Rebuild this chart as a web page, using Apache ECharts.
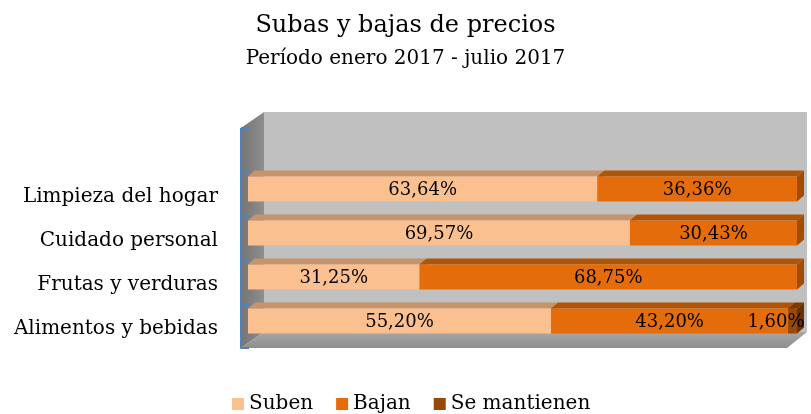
<!DOCTYPE html>
<html>
<head>
<meta charset="utf-8">
<script src="https://cdn.jsdelivr.net/npm/echarts@6/dist/echarts.min.js"></script>
<style>
  html, body { margin: 0; padding: 0; background: #fff; }
  #chart { width: 811px; height: 414px; }
</style>
</head>
<body>
<div id="chart"></div>
<script>
// data (bottom to top, like the axis)
const categories = ['Alimentos y bebidas', 'Frutas y verduras', 'Cuidado personal', 'Limpieza del hogar'];
const suben = [55.20, 31.25, 69.57, 63.64];
const bajan = [43.20, 68.75, 30.43, 36.36];
const seMantienen = [1.60, 0, 0, 0];

const seriesNames = ['Suben', 'Bajan', 'Se mantienen'];
const seriesValues = [suben, bajan, seMantienen];

const FONT = 'DejaVu Serif';
// front face, top face, side face
const colors = [
  ['#FAC090', '#C7936B', '#B8845E'],
  ['#E46C0A', '#B05508', '#A24D06'],
  ['#984807', '#7A3905', '#6A3104']
];

// grid = front plane of the axis
const G = { left: 241, top: 172, right: 21, bottom: 66 };
const FX = 7, FY = -5;    // bar front offset from axis plane
const DX = 7, DY = 6;     // bar depth
const WX = 23, WY = 16;   // back wall offset
const EXTRA = 44;         // empty band above the bars

const myChart = echarts.init(document.getElementById('chart'));

// running start of each stacked piece
const starts = seriesValues.map((vals, k) =>
  vals.map((v, i) => seriesValues.slice(0, k).reduce((s, arr) => s + arr[i], 0))
);

function fmt(v) {
  return v.toFixed(2).replace('.', ',') + '%';
}

function makeRender(k) {
  return function (params, api) {
    const cat = api.value(0);
    const start = api.value(1);
    const val = api.value(2);
    if (!(val > 0)) return null;
    const a = api.coord([start, cat]);
    const b = api.coord([start + val, cat]);
    const band = api.size([0, 1])[1];
    const h = band * 0.57;
    const x0 = a[0] + FX, x1 = b[0] + FX;
    const yc = a[1] + FY, yt = yc - h / 2;
    const c = colors[k];
    // keep the label inside the plot like the original does
    const half = 30;
    const tx = Math.min((x0 + x1) / 2, x1 + DX + 2 - half);
    return {
      type: 'group',
      children: [
        { type: 'polygon', shape: { points: [[x0, yt], [x1, yt], [x1 + DX, yt - DY], [x0 + DX, yt - DY]] }, style: { fill: c[1] } },
        { type: 'polygon', shape: { points: [[x1, yt], [x1 + DX, yt - DY], [x1 + DX, yt - DY + h], [x1, yt + h]] }, style: { fill: c[2] } },
        { type: 'rect', shape: { x: x0, y: yt, width: x1 - x0, height: h }, style: { fill: c[0] } },
        {
          type: 'text',
          style: {
            x: tx, y: yc + 1, text: fmt(val),
            align: 'center', verticalAlign: 'middle',
            font: '18px "' + FONT + '"', fill: '#000'
          },
          z2: 10
        }
      ]
    };
  };
}

const W = 811, H = 414;
const gx0 = G.left, gx1 = W - G.right, gy0 = G.top - EXTRA, gy1 = H - G.bottom;

const option = {
  animation: false,
  title: {
    text: 'Subas y bajas de precios',
    subtext: 'Período enero 2017 - julio 2017',
    left: 'center',
    top: 9,
    itemGap: 11,
    textStyle: { fontFamily: FONT, fontSize: 24, fontWeight: 'normal', color: '#000' },
    subtextStyle: { fontFamily: FONT, fontSize: 20, color: '#000' }
  },
  legend: {
    data: seriesNames,
    bottom: -5,
    left: 227,
    icon: 'rect',
    itemWidth: 12,
    itemHeight: 12,
    itemGap: 23,
    textStyle: { fontFamily: FONT, fontSize: 20, color: '#000' }
  },
  grid: G,
  xAxis: { type: 'value', min: 0, max: 100, show: false },
  yAxis: {
    type: 'category',
    data: categories,
    axisLine: { show: true, lineStyle: { color: '#4F81BD', width: 2 } },
    axisTick: { show: true, inside: true, length: 8, lineStyle: { color: '#4F81BD', width: 2 } },
    axisLabel: {
      margin: 23,
      formatter: v => '{c|' + v + '}',
      rich: { c: { fontFamily: FONT, fontSize: 20, color: '#000', padding: [6, 0, 0, 0] } }
    },
    splitLine: { show: false },
    z: 5
  },
  graphic: [
    // back wall
    { type: 'polygon', z: -10, shape: { points: [[gx0 + WX, gy0 - WY], [gx1 + WX - 6, gy0 - WY], [gx1 + WX - 6, gy1 - WY], [gx0 + WX, gy1 - WY]] }, style: { fill: '#C0C0C0' } },
    // left wall
    { type: 'polygon', z: -9, shape: { points: [[gx0, gy0], [gx0 + WX, gy0 - WY], [gx0 + WX, gy1 - WY], [gx0, gy1]] },
      style: { fill: new echarts.graphic.LinearGradient(0, 0, 1, 0, [{ offset: 0, color: '#757575' }, { offset: 1, color: '#8E8E8E' }]) } },
    // floor
    { type: 'polygon', z: -9, shape: { points: [[gx0, gy1], [gx1 - 3, gy1], [gx1 + WX - 6, gy1 - WY], [gx0 + WX, gy1 - WY]] },
      style: { fill: new echarts.graphic.LinearGradient(0, 0, 0, 1, [{ offset: 0, color: '#A6A6A6' }, { offset: 1, color: '#8E8E8E' }]) } },
    // axis extension above the bars
    { type: 'line', z: 100, shape: { x1: gx0, y1: gy0, x2: gx0, y2: G.top }, style: { stroke: '#4F81BD', lineWidth: 2 } },
    { type: 'line', z: 100, shape: { x1: gx0, y1: gy0, x2: gx0 + 8, y2: gy0 }, style: { stroke: '#4F81BD', lineWidth: 2 } }
  ],
  series: seriesNames.map((name, k) => ({
    name: name,
    type: 'custom',
    z: 10,
    itemStyle: { color: colors[k][0] },
    renderItem: makeRender(k),
    encode: { x: [1, 2], y: 0 },
    data: seriesValues[k].map((v, i) => [i, starts[k][i], v])
  }))
};

myChart.setOption(option);
</script>
</body>
</html>
